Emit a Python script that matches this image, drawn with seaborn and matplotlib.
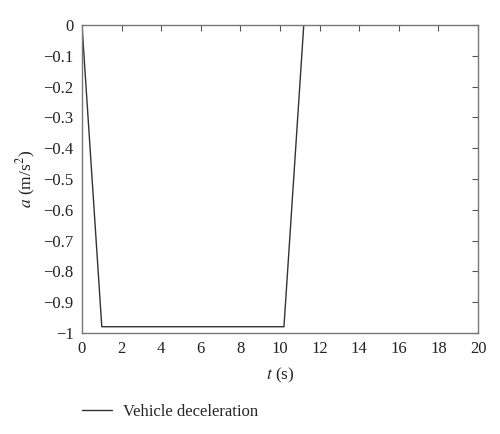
import matplotlib
matplotlib.use("Agg")
import matplotlib.pyplot as plt
import seaborn as sns
import pandas as pd

# values
t_s = [0, 1.0, 10.2, 11.2]
decel = [0, -0.98, -0.98, 0]
x_ticks = list(range(0, 21, 2))
y_ticks = [0, -0.1, -0.2, -0.3, -0.4, -0.5, -0.6, -0.7, -0.8, -0.9, -1]

sns.set_style("white")
plt.rcParams['font.family'] = ['Liberation Serif', 'DejaVu Serif']
plt.rcParams['mathtext.fontset'] = 'stix'
plt.rcParams['axes.unicode_minus'] = True

df = pd.DataFrame({"t": t_s, "a": decel})

fig = plt.figure(figsize=(5.0, 4.34), dpi=100)
ax = fig.add_axes([0.164, 0.233, 0.792, 0.709])
sns.lineplot(data=df, x="t", y="a", ax=ax, color="#333333", linewidth=1.0,
             label="Vehicle deceleration", sort=False)

ax.set_xlim(0, 20)
ax.set_ylim(-1, 0)
ax.set_xticks(x_ticks)
ax.set_yticks(y_ticks)
ax.set_yticklabels(["0"] + [f"\u2212{abs(v):g}" for v in y_ticks[1:]])
ax.tick_params(direction="in", length=4, width=0.8, color="#555555",
               labelsize=12, labelcolor="#222222", top=True, right=True,
               pad=6)
for s in ax.spines.values():
    s.set_color("#777777")
    s.set_linewidth(1.0)

ax.set_xlabel("$t$ (s)", fontsize=12.5, color="#222222", labelpad=6)
ax.set_ylabel("$a$ (m/s$^2$)", fontsize=12.5, color="#222222", labelpad=4)

ax.legend(loc="upper left", bbox_to_anchor=(0.0, -0.232), frameon=False,
          fontsize=12, handlelength=1.8, handletextpad=0.65,
          borderpad=0, borderaxespad=0)

fig.savefig("out.png", dpi=100)
